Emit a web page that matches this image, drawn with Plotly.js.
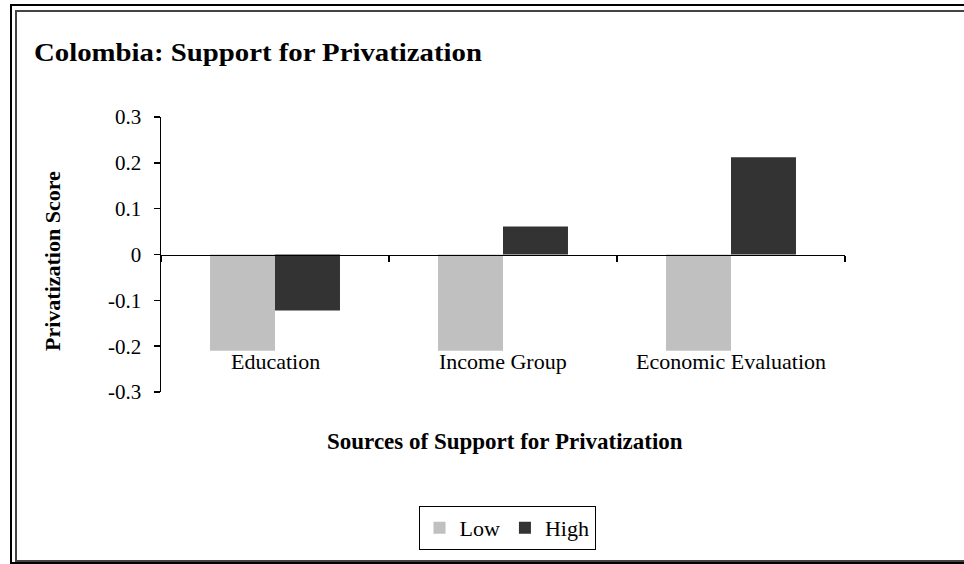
<!DOCTYPE html>
<html>
<head>
<meta charset="utf-8">
<script src="https://cdn.plot.ly/plotly-3.0.1.min.js"></script>
<style>html,body{margin:0;padding:0;background:#fff;}</style>
</head>
<body>
<div id="chart" style="width:964px;height:564px;"></div>
<script>
const categories = ["Education", "Income Group", "Economic Evaluation"];
const lowValues = [-0.21, -0.21, -0.21];
const highValues = [-0.122, 0.061, 0.212];
const seriesNames = ["Low", "High"];
const yTickVals = [0.3, 0.2, 0.1, 0, -0.1, -0.2, -0.3];
const yTickText = ["0.3", "0.2", "0.1", "0", "-0.1", "-0.2", "-0.3"];

const W = 964, H = 564;
const M = {l: 161, r: 119, t: 117, b: 172};
const pw = W - M.l - M.r, ph = H - M.t - M.b;
const px = x => (x - M.l) / pw;
const py = y => (H - M.b - y) / ph;

const FONT = "Liberation Serif, Times New Roman, serif";

const traces = [
  {type: "bar", name: seriesNames[0], x: categories, y: lowValues,
   marker: {color: "#C0C0C0", line: {width: 0}}, hoverinfo: "none"},
  {type: "bar", name: seriesNames[1], x: categories, y: highValues,
   marker: {color: "#333333", line: {width: 0}}, hoverinfo: "none"}
];

const annotations = categories.map(c => ({
  x: c, y: -0.234, xref: "x", yref: "y", text: c, showarrow: false,
  font: {family: FONT, size: 22, color: "#000"}, xanchor: "center", yanchor: "middle"
}));
annotations.push({
  x: px(505), y: py(441), xref: "paper", yref: "paper",
  text: "<b>Sources of Support for Privatization</b>", showarrow: false,
  font: {family: FONT, size: 23, color: "#000"}, xanchor: "center", yanchor: "middle"
});
annotations.push({
  x: px(52), y: py(261), xref: "paper", yref: "paper",
  text: "<b>Privatization Score</b>", showarrow: false, textangle: -90,
  font: {family: FONT, size: 22, color: "#000"}, xanchor: "center", yanchor: "middle"
});

const shapes = [
  {type: "rect", xref: "paper", yref: "paper", x0: px(11), x1: px(990), y0: py(563), y1: py(5),
   line: {color: "#000", width: 2}},
  {type: "rect", xref: "paper", yref: "paper", x0: px(16), x1: px(990), y0: py(561), y1: py(11),
   line: {color: "#444", width: 2}}
];

const layout = {
  width: W, height: H,
  margin: M,
  paper_bgcolor: "#fff", plot_bgcolor: "#fff",
  font: {family: FONT, size: 18, color: "#000"},
  title: {text: "<b>Colombia: Support for Privatization</b>", x: 34 / W, xanchor: "left", xref: "container",
          y: 1 - 52 / H, yanchor: "middle", yref: "container",
          font: {family: FONT, size: 26, color: "#000"}},
  barmode: "group", bargap: 0.43, bargroupgap: 0,
  showlegend: true,
  legend: {orientation: "h", x: px(507), xanchor: "center", y: py(506), yanchor: "top",
           bordercolor: "#000", borderwidth: 1, bgcolor: "#fff",
           font: {family: FONT, size: 22, color: "#000"}, traceorder: "normal",
           itemwidth: 30, tracegroupgap: 0},
  xaxis: {type: "category", range: [-0.5, 2.5], anchor: "free", position: 0.5,
          showline: true, linecolor: "#000", linewidth: 1.5,
          ticks: "outside", tickson: "boundaries", ticklen: 6, tickcolor: "#000", tickwidth: 1.5,
          showticklabels: false, showgrid: false, zeroline: false, fixedrange: true},
  yaxis: {range: [-0.3, 0.3], tickmode: "array", tickvals: yTickVals, ticktext: yTickText,
          showline: true, linecolor: "#000", linewidth: 1.5,
          ticks: "outside", ticklen: 6, tickcolor: "#000", tickwidth: 1.5,
          ticklabelstandoff: 8,
          tickfont: {family: FONT, size: 21, color: "#000"},
          showgrid: false, zeroline: false, fixedrange: true},
  annotations: annotations,
  shapes: shapes
};

Plotly.newPlot("chart", traces, layout, {displayModeBar: false, staticPlot: true}).then(gd => {
  const t = gd.querySelector(".gtitle");
  if (t) {
    t.setAttribute("textLength", "448");
    t.setAttribute("lengthAdjust", "spacingAndGlyphs");
  }
});
</script>
</body>
</html>
